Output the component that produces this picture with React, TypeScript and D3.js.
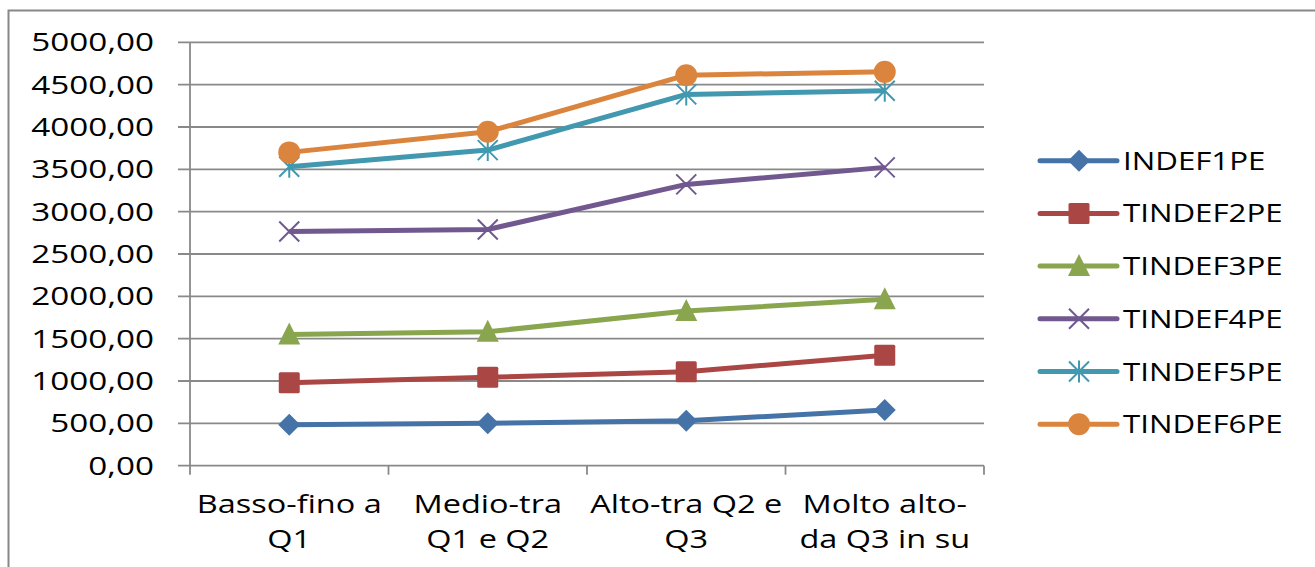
import React from "react";
import * as d3 from "d3";

const categories: string[][] = [
  ["Basso-fino a", "Q1"],
  ["Medio-tra", "Q1 e Q2"],
  ["Alto-tra Q2 e", "Q3"],
  ["Molto alto-", "da Q3 in su"],
];
const seriesNames = ["INDEF1PE", "TINDEF2PE", "TINDEF3PE", "TINDEF4PE", "TINDEF5PE", "TINDEF6PE"];
const indef1 = [485, 500, 530, 658];
const tindef2 = [980, 1044, 1110, 1303];
const tindef3 = [1550, 1582, 1826, 1965];
const tindef4 = [2765, 2790, 3322, 3523];
const tindef5 = [3530, 3727, 4385, 4427];
const tindef6 = [3700, 3943, 4612, 4651];
const seriesValues = [indef1, tindef2, tindef3, tindef4, tindef5, tindef6];
const colors = ["#4572A7", "#AA4643", "#89A54E", "#71588F", "#4198AF", "#DB843D"];
const markers = ["diamond", "square", "triangle", "x", "star", "circle"];
const yTicks = d3.range(0, 5001, 500);

const FONT = "'Open Sans', sans-serif";

function Marker({ type, x, y, color }: { type: string; x: number; y: number; color: string }) {
  const s = 11;
  switch (type) {
    case "diamond":
      return <path d={`M${x},${y - s} L${x + s},${y} L${x},${y + s} L${x - s},${y} Z`} fill={color} />;
    case "square":
      return <rect x={x - s + 0.5} y={y - s + 0.5} width={2 * s - 1} height={2 * s - 1} rx={1.5} fill={color} />;
    case "triangle":
      return <path d={`M${x},${y - s - 1} L${x + s},${y + s - 1} L${x - s},${y + s - 1} Z`} fill={color} />;
    case "x":
      return (
        <path d={`M${x - 10},${y - 10} L${x + 10},${y + 10} M${x - 10},${y + 10} L${x + 10},${y - 10}`} stroke={color} strokeWidth={2} />
      );
    case "star":
      return (
        <path
          d={`M${x - 10},${y - 10} L${x + 10},${y + 10} M${x - 10},${y + 10} L${x + 10},${y - 10} M${x},${y - 11} L${x},${y + 11}`}
          stroke={color}
          strokeWidth={2}
        />
      );
    default:
      return <circle cx={x} cy={y} r={11} fill={color} />;
  }
}

function SText({ x, y, anchor, children, size = 25, sx = 1.3 }: any) {
  return (
    <text
      transform={`translate(${x},${y}) scale(${sx},1)`}
      textAnchor={anchor}
      fontFamily={FONT}
      fontSize={size}
      fill="#000"
    >
      {children}
    </text>
  );
}

export default function App() {
  const W = 1315;
  const H = 567;
  const left = 190;
  const right = 984;
  const top = 42.3;
  const bottom = 465.7;
  const x = d3.scaleBand<number>().domain(d3.range(categories.length)).range([left, right]);
  const y = d3.scaleLinear().domain([0, 5000]).range([bottom, top]);
  const line = d3
    .line<number>()
    .x((_, i) => (x(i) as number) + x.bandwidth() / 2)
    .y((v) => y(v));
  const gridColor = "#898989";
  const legendX1 = 1040;
  const legendX2 = 1117;
  const legendY0 = 160.7;
  const legendStep = 52.7;

  return (
    <svg width={W} height={H} style={{ position: "absolute", left: 0, top: 0 }}>
      <rect x={0} y={0} width={W} height={H} fill="#fff" />
      <path d={`M8.5,${H} L8.5,10.5 L${W},10.5`} fill="none" stroke="#888" strokeWidth={2} />
      {yTicks.map((t) => (
        <g key={t}>
          <line x1={178} x2={right} y1={y(t)} y2={y(t)} stroke={gridColor} strokeWidth={1.8} />
          <SText x={154} y={y(t) + 9} anchor="end" sx={1.33}>
            {d3.format(".2f")(t).replace(".", ",")}
          </SText>
        </g>
      ))}
      <line x1={left} x2={left} y1={top} y2={bottom} stroke={gridColor} strokeWidth={1.8} />
      {d3.range(categories.length + 1).map((i) => {
        const xx = left + i * x.step();
        return <line key={i} x1={xx} x2={xx} y1={bottom} y2={bottom + 9} stroke={gridColor} strokeWidth={1.8} />;
      })}
      {categories.map((lines, i) => (
        <g key={i}>
          {lines.map((l, j) => (
            <SText key={j} x={(x(i) as number) + x.bandwidth() / 2} y={513 + j * 35.3} anchor="middle">
              {l}
            </SText>
          ))}
        </g>
      ))}
      {seriesValues.map((vals, si) => (
        <g key={si}>
          <path d={line(vals) as string} fill="none" stroke={colors[si]} strokeWidth={5} strokeLinejoin="round" />
          {vals.map((v, i) => (
            <Marker key={i} type={markers[si]} x={(x(i) as number) + x.bandwidth() / 2} y={y(v)} color={colors[si]} />
          ))}
        </g>
      ))}
      {seriesNames.map((n, si) => {
        const ly = legendY0 + si * legendStep;
        return (
          <g key={n}>
            <line x1={legendX1} x2={legendX2} y1={ly} y2={ly} stroke={colors[si]} strokeWidth={5} strokeLinecap="round" />
            <Marker type={markers[si]} x={(legendX1 + legendX2) / 2 + 0.5} y={ly} color={colors[si]} />
            <SText x={1123} y={ly + 9} anchor="start" sx={1.25}>
              {n}
            </SText>
          </g>
        );
      })}
    </svg>
  );
}
